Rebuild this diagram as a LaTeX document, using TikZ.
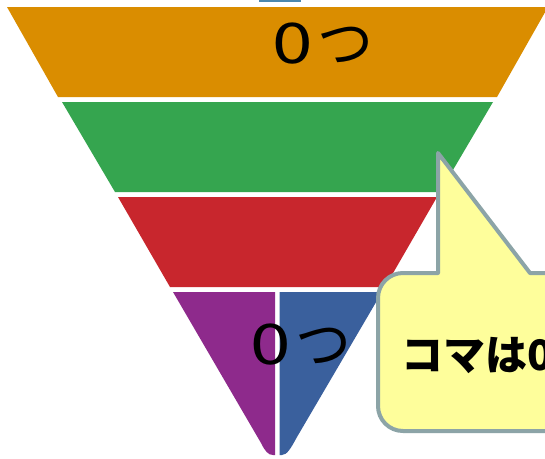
\documentclass[tikz,border=0pt]{standalone}
\usepackage{fontspec}
\usepackage{graphicx}
\newfontfamily\cjk{Noto Sans CJK JP}
\definecolor{cOrange}{HTML}{DA8D00}
\definecolor{cGreen}{HTML}{35A54F}
\definecolor{cRed}{HTML}{C8262D}
\definecolor{cPurple}{HTML}{8E2A8C}
\definecolor{cBlue}{HTML}{3A609D}
\definecolor{cYellow}{HTML}{FEFE9B}
\definecolor{cBorder}{HTML}{8CA4A7}
\definecolor{cStrip}{HTML}{4A87AF}
\newcommand{\zerotsu}{\scalebox{1.3}[1]{0}\hspace{5pt}つ}
\tikzset{
  lbl/.style={font=\cjk\fontsize{56}{60}\selectfont, inner sep=0pt, anchor=base west},
  calltext/.style={font=\cjk\bfseries\fontsize{42}{48}\selectfont, inner sep=0pt, anchor=base west},
  callout/.style={fill=cYellow, draw=cBorder, line width=4pt, line join=round}
}
\begin{document}
\begin{tikzpicture}[x=1pt,y=-1pt]
\useasboundingbox (0,0) rectangle (545,458);
\fill[white] (0,0) rectangle (545,458);
% top strip
\fill[cStrip] (259,0) rectangle (301,2);
% funnel bands
\fill[cOrange] (7,7) -- (548,7) -- (497,97) -- (58,97) -- cycle;
\fill[cGreen] (62,102) -- (493,102) -- (440,192) -- (115,192) -- cycle;
\fill[cRed] (118,197) -- (437,197) -- (385,287) -- (170,287) -- cycle;
\fill[cPurple] (173,292) -- (261,443) .. controls (265,451) and (268,455) .. (273,455) -- (275,455) -- (275,292) -- cycle;
\fill[cBlue] (279.5,292) -- (382,292) -- (297,437) .. controls (291,448) and (287,455) .. (282,455) -- (279.5,455) -- cycle;
% labels
\node[lbl] (t1) at (272,63) {\zerotsu};
\node[lbl] (t2) at (250,364) {\zerotsu};
% callout
\draw[callout] (438,273) -- (438,153) -- (530,273) -- (620,273) -- (620,431) -- (403,431)
  arc(90:180:25) -- (378,298) arc(180:270:25) -- cycle;
\node[calltext] (c1) at (401,370) {コマは0};
\end{tikzpicture}
\end{document}
